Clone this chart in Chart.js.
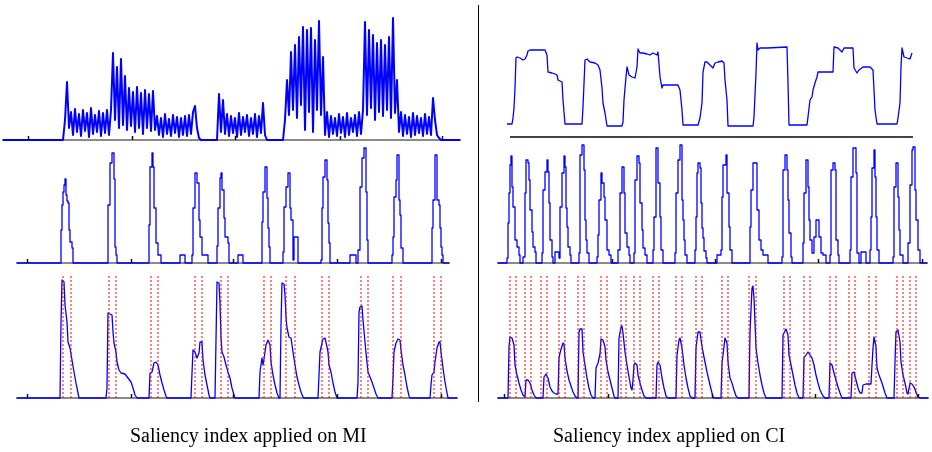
<!DOCTYPE html>
<html>
<head>
<meta charset="utf-8">
<script src="https://cdn.jsdelivr.net/npm/chart.js"></script>
<style>
  html, body { margin: 0; padding: 0; background: #fff; }
  #wrap { position: relative; width: 932px; height: 452px; overflow: hidden; background: #fff; }
  #wrap canvas { position: absolute; left: 0; top: 0; }
  .divider { position: absolute; left: 478px; top: 5px; width: 1px; height: 397px; background: #000; }
  .caption { position: absolute; top: 425px; font-family: "Liberation Serif", "Times New Roman", serif; font-size: 20px; line-height: 20px; color: #000; white-space: nowrap; }
</style>
</head>
<body>
<div id="wrap">
  <canvas id="miRawChart" width="932" height="452"></canvas>
  <canvas id="miSalChart" width="932" height="452"></canvas>
  <canvas id="miIdxChart" width="932" height="452"></canvas>
  <canvas id="ciRawChart" width="932" height="452"></canvas>
  <canvas id="ciSalChart" width="932" height="452"></canvas>
  <canvas id="ciIdxChart" width="932" height="452"></canvas>
  <div class="divider"></div>
  <div class="caption" style="left:130px">Saliency index applied on MI</div>
  <div class="caption" style="left:553px">Saliency index applied on CI</div>
</div>
<script>
// ---- MI (left) ----
// raw signal, blocks of samples taken every 2 frames: [first frame, values]
var miRawBlocks = [
    [63, [0, 20, 58, 12,
          28, 5, 31, 8, 26, 4, 30, 9, 27, 3, 32, 6, 25, 8, 29, 4, 27, 7, 30, 5,
          30, 87, 20, 73, 12, 81, 15, 64, 10, 52, 14, 48, 8, 53, 12, 47, 6, 50, 12, 46, 9, 49,
          10,
          24, 5, 22, 3, 26, 6, 21, 4, 25, 7, 23, 3, 22, 5, 24, 4, 25, 6, 28, 34, 12,
          2, 0]],
    [217, [0, 46, 8, 40,
           6, 26, 4, 24, 7, 22, 3, 27, 5, 23, 8, 25, 4, 22, 6, 26, 3, 24, 7,
           37, 5, 0]],
    [283, [0,
           20, 60, 25, 88, 30, 95, 22, 103, 35, 113, 10, 110, 28, 112, 8, 100, 30, 119, 25, 83,
           5, 28, 3, 24, 6, 22, 4, 26, 7, 23, 3, 27, 5, 22, 8, 25, 4, 28, 6,
           30, 118, 25, 110, 32, 105, 20, 97, 28, 100, 24, 95, 30, 103, 22, 122, 27, 60,
           8, 28, 4, 25, 6, 23, 3, 27, 5, 24, 7, 22, 4, 26, 6, 23, 5, 42, 20,
           5, 2, 0]]
];

// saliency, one list of [frame, value] per peak
var miSalPeaks = [
    [[61, 33], [62, 58], [63, 71], [64, 78], [65, 84], [66, 68], [67, 62], [68, 60], [69, 33], [70, 21], [72, 15], [73, 0]],
    [[108, 58], [110, 100], [112, 110], [114, 84], [115, 16], [116, 8], [117, 0]],
    [[149, 38], [150, 96], [152, 110], [153, 96], [154, 55], [156, 20], [158, 8], [161, 0]],
    [[180, 8], [185, 0]],
    [[192, 8], [193, 55], [195, 90], [197, 80], [199, 43], [200, 26], [202, 8], [208, 0]],
    [[217, 17], [218, 55], [220, 85], [221, 90], [222, 73], [224, 45], [225, 26], [228, 20], [229, 0]],
    [[238, 8], [243, 0]],
    [[262, 41], [263, 71], [265, 96], [267, 65], [268, 35], [269, 16], [270, 0]],
    [[283, 11], [284, 56], [286, 76], [288, 90], [290, 55], [291, 43], [293, 3], [294, 26], [298, 0]],
    [[321, 3], [322, 55], [323, 86], [325, 103], [327, 83], [328, 40], [329, 20], [330, 0]],
    [[350, 8], [356, 0]],
    [[358, 13], [360, 76], [362, 105], [364, 115], [366, 71], [367, 23], [368, 0]],
    [[392, 8], [393, 26], [394, 66], [396, 83], [397, 108], [399, 63], [400, 48], [401, 15], [403, 0]],
    [[432, 35], [433, 63], [435, 108], [437, 63], [439, 58], [440, 35], [441, 16], [442, 8], [443, 0]]
];

// saliency index
var miIdxPeaks = [
    [[60, 0], [61, 76], [62, 118], [64, 116], [65, 93], [67, 76], [68, 56], [70, 50], [72, 38], [74, 26], [76, 15], [78, 5], [79, 0]],
    [[106, 0], [107, 10], [108, 85], [110, 84], [112, 83], [113, 66], [114, 55], [116, 46], [117, 36], [119, 28], [121, 25], [125, 24], [128, 20], [131, 16], [133, 10], [135, 3], [137, 0]],
    [[149, 0], [150, 25], [152, 26], [154, 35], [156, 36], [158, 33], [160, 23], [162, 15], [164, 8], [166, 2], [167, 0]],
    [[191, 0], [192, 25], [193, 48], [195, 46], [197, 40], [199, 45], [200, 56], [202, 56], [203, 38], [205, 23], [207, 13], [209, 3], [210, 0]],
    [[215, 0], [216, 58], [217, 116], [219, 115], [220, 95], [221, 61], [222, 46], [224, 41], [226, 33], [228, 26], [230, 20], [232, 10], [234, 3], [235, 0]],
    [[259, 0], [260, 26], [262, 40], [263, 33], [264, 39], [266, 53], [268, 58], [270, 53], [271, 36], [273, 23], [275, 13], [277, 5], [279, 0]],
    [[280, 0], [281, 73], [282, 115], [284, 114], [285, 103], [286, 81], [287, 70], [289, 61], [291, 60], [293, 46], [295, 33], [297, 21], [299, 13], [301, 6], [303, 1], [304, 0]],
    [[318, 0], [319, 23], [320, 46], [322, 55], [323, 59], [325, 60], [327, 51], [328, 46], [329, 33], [331, 26], [333, 15], [335, 6], [337, 0]],
    [[357, 0], [358, 16], [359, 86], [360, 91], [362, 92], [363, 78], [365, 56], [366, 45], [368, 26], [370, 21], [372, 16], [374, 10], [376, 4], [378, 0]],
    [[392, 0], [393, 20], [394, 46], [396, 55], [398, 59], [400, 58], [401, 48], [403, 33], [405, 23], [407, 11], [409, 2], [410, 0]],
    [[430, 0], [431, 13], [432, 23], [434, 26], [435, 36], [437, 50], [439, 56], [440, 56], [441, 46], [443, 30], [445, 16], [447, 5], [448, 0]]
];
var miCuts = [63, 71, 109, 116, 151, 158, 195, 202, 221, 228, 264, 271, 286, 295, 322, 329, 361, 368, 393, 401, 434, 441];
var miTicksTop = [28, 132, 235, 340, 442];
var miTicks = [27, 131, 233, 337, 441];

// ---- CI (right) ----
var ciRaw = [
    [16, 4], [17, 13], [22, 13], [23, 19], [24, 29], [25, 49], [26, 79], [27, 80], [30, 79], [33, 77], [35, 78], [37, 82], [38, 86], [40, 87], [55, 87],
    [57, 82], [58, 65], [62, 64], [65, 63], [67, 62], [68, 57], [72, 55], [73, 37], [75, 13], [92, 13], [93, 30], [95, 77], [97, 78], [100, 75], [105, 74],
    [108, 72], [110, 67], [112, 49], [113, 34], [115, 24], [117, 11], [132, 11], [133, 15], [134, 37], [136, 60], [137, 70], [139, 62], [142, 60], [145, 59],
    [147, 70], [148, 88], [150, 84], [153, 84], [157, 83], [160, 82], [163, 84], [167, 82], [168, 85], [170, 60], [172, 49], [173, 52], [188, 52], [190, 47],
    [192, 27], [193, 12], [208, 12], [210, 19], [212, 34], [213, 65], [215, 75], [217, 75], [220, 72], [223, 69], [225, 74], [228, 75], [232, 76], [234, 74],
    [235, 57], [237, 37], [238, 11], [263, 11], [264, 20], [266, 64], [267, 94], [268, 87], [270, 89], [277, 89], [297, 90], [298, 54], [299, 12], [317, 12],
    [318, 20], [320, 37], [322, 40], [323, 47], [325, 54], [327, 60], [328, 65], [343, 65], [344, 90], [348, 89], [350, 87], [352, 85], [354, 89], [363, 89],
    [364, 69], [367, 64], [369, 67], [373, 70], [380, 70], [383, 67], [384, 47], [385, 27], [387, 13], [407, 13], [408, 19], [410, 34], [411, 70], [412, 89],
    [414, 80], [417, 79], [420, 78], [422, 84], [423, 87], [426, 85], [430, 86], [434, 85], [438, 85]
];

var ciSalPeaks = [
    [[17, 5], [18, 40], [19, 70], [20, 98], [21, 107], [22, 76], [23, 56], [25, 23], [27, 16], [29, 8], [30, 0]],
    [[33, 6], [35, 70], [36, 103], [38, 100], [39, 83], [40, 53], [42, 31], [43, 16], [45, 11], [46, 0]],
    [[52, 10], [53, 73], [55, 91], [57, 103], [58, 91], [59, 60], [60, 23], [62, 6], [63, 0]],
    [[65, 11], [69, 5], [70, 56], [72, 90], [74, 107], [75, 96], [76, 55], [77, 36], [78, 16], [80, 8], [81, 0]],
    [[89, 10], [90, 108], [92, 118], [94, 93], [95, 43], [96, 23], [97, 10], [99, 0]],
    [[107, 6], [108, 28], [109, 63], [111, 90], [112, 80], [114, 66], [115, 43], [117, 13], [119, 8], [121, 0]],
    [[128, 13], [130, 70], [132, 96], [134, 70], [135, 30], [137, 16], [139, 8], [140, 0]],
    [[144, 10], [145, 83], [147, 107], [149, 100], [150, 60], [152, 33], [153, 15], [155, 8], [157, 0]],
    [[163, 13], [164, 46], [166, 115], [168, 80], [170, 46], [171, 13], [173, 0]],
    [[185, 10], [186, 70], [188, 103], [190, 118], [192, 63], [193, 43], [194, 23], [195, 8], [197, 0]],
    [[205, 13], [206, 46], [207, 90], [208, 100], [210, 95], [211, 60], [212, 35], [213, 25], [214, 12], [216, 5], [217, 0]],
    [[227, 8], [231, 13], [232, 66], [233, 98], [236, 108], [237, 70], [239, 36], [240, 13], [242, 0]],
    [[260, 36], [261, 73], [263, 100], [266, 100], [267, 53], [269, 23], [271, 13], [273, 8], [278, 0]],
    [[292, 6], [293, 93], [295, 108], [297, 93], [298, 63], [299, 30], [301, 6], [302, 0]],
    [[313, 20], [314, 70], [316, 103], [318, 76], [319, 43], [320, 23], [322, 10], [324, 26], [326, 43], [329, 26], [331, 10], [333, 8], [336, 0]],
    [[340, 8], [341, 93], [343, 100], [345, 93], [346, 23], [348, 8], [349, 0]],
    [[360, 13], [361, 86], [363, 115], [366, 90], [367, 10], [369, 0], [371, 11], [376, 0]],
    [[380, 13], [381, 46], [382, 95], [384, 113], [385, 86], [386, 46], [387, 13], [389, 0]],
    [[403, 6], [404, 76], [406, 100], [408, 66], [409, 33], [410, 8], [413, 0]],
    [[418, 20], [420, 78], [422, 113], [423, 116], [425, 73], [426, 43], [428, 13], [430, 0]]
];

var ciIdxPeaks = [
    [[18, 0], [19, 51], [20, 61], [22, 60], [24, 53], [25, 33], [27, 23], [29, 15], [31, 8], [33, 3], [35, 1], [36, 18], [38, 18], [40, 15], [42, 8], [44, 3], [46, 0]],
    [[53, 0], [54, 21], [56, 24], [58, 20], [60, 11], [62, 7], [64, 5], [66, 4], [68, 4], [69, 40], [70, 45], [72, 52], [73, 55], [74, 54], [75, 40], [77, 27], [79, 18], [81, 12], [83, 6], [85, 2], [87, 0]],
    [[88, 0], [89, 66], [90, 69], [92, 69], [93, 46], [95, 33], [97, 20], [99, 10], [101, 3], [103, 0]],
    [[105, 0], [106, 30], [108, 35], [110, 44], [111, 59], [113, 58], [115, 51], [116, 38], [118, 26], [120, 18], [122, 10], [124, 2], [125, 0]],
    [[128, 0], [129, 60], [131, 71], [132, 72], [133, 65], [135, 46], [137, 33], [139, 21], [141, 10], [142, 8], [143, 18], [144, 33], [145, 35], [147, 33], [148, 23], [150, 15], [152, 8], [154, 2], [156, 0]],
    [[166, 0], [167, 33], [168, 36], [170, 33], [172, 20], [174, 10], [176, 2], [178, 0]],
    [[186, 0], [187, 43], [189, 58], [190, 60], [192, 50], [194, 33], [196, 20], [198, 10], [200, 2], [202, 0]],
    [[205, 0], [206, 50], [208, 66], [210, 66], [211, 58], [213, 46], [217, 26], [220, 13], [223, 1], [224, 0]],
    [[231, 0], [232, 35], [233, 43], [235, 60], [237, 55], [238, 36], [240, 20], [242, 15], [244, 8], [246, 2], [248, 0]],
    [[259, 0], [260, 66], [262, 110], [263, 112], [264, 100], [266, 50], [268, 35], [270, 23], [272, 13], [274, 5], [276, 0]],
    [[292, 0], [293, 63], [296, 69], [298, 63], [299, 43], [301, 33], [303, 23], [305, 13], [307, 5], [309, 0]],
    [[313, 0], [314, 40], [316, 43], [318, 46], [320, 43], [322, 40], [324, 33], [326, 23], [328, 15], [330, 8], [333, 2], [335, 0]],
    [[339, 0], [340, 35], [342, 33], [344, 25], [346, 18], [348, 11], [350, 5], [352, 0]],
    [[361, 0], [362, 25], [364, 26], [366, 18], [368, 10], [370, 5], [372, 5], [373, 13], [376, 14], [381, 14], [382, 33], [383, 50], [384, 61], [386, 51], [387, 30], [389, 23], [392, 15], [395, 5], [397, 0]],
    [[404, 0], [405, 36], [406, 66], [408, 68], [410, 56], [411, 36], [413, 23], [415, 15], [417, 5], [418, 4], [420, 15], [422, 14], [424, 11], [426, 6], [428, 1], [430, 0]]
];
var ciCuts = [20, 26, 35, 41, 51, 57, 69, 75, 88, 94, 111, 117, 131, 136, 144, 150, 163, 169, 186, 192, 206, 212,
              232, 238, 259, 266, 294, 300, 314, 320, 340, 346, 359, 365, 379, 386, 407, 413, 420, 426];
var ciTicksMid = [122, 225, 328, 432];
var ciTicksLow = [14, 118, 222, 325, 428];

var BLUE = '#0000ff';
var RED = '#ff0000';

// small black marks sitting on the baseline
var tickMarks = {
    id: 'tickMarks',
    afterDatasetsDraw: function (chart, args, opts) {
        if (!opts.at) return;
        var ctx = chart.ctx, xs = chart.scales.x, yb = chart.chartArea.bottom;
        ctx.save();
        ctx.strokeStyle = '#111';
        ctx.lineWidth = 1.5;
        opts.at.forEach(function (t) {
            var px = Math.round(xs.getPixelForValue(t)) + 0.5;
            ctx.beginPath();
            ctx.moveTo(px, yb);
            ctx.lineTo(px, yb - 4);
            ctx.stroke();
        });
        ctx.restore();
    }
};

function fromBlocks(blocks, step, t0, t1) {
    var out = [{ x: t0, y: 0 }];
    blocks.forEach(function (b) {
        b[1].forEach(function (v, k) { out.push({ x: b[0] + k * step, y: v }); });
    });
    out.push({ x: t1, y: 0 });
    return out;
}

function fromPeaks(peaks, t0, t1) {
    var out = [{ x: t0, y: 0 }];
    peaks.forEach(function (p) {
        p.forEach(function (pt) { out.push({ x: pt[0], y: pt[1] }); });
    });
    out.push({ x: t1, y: 0 });
    return out;
}

function blueSet(points, stepped, width) {
    return {
        data: points, borderColor: BLUE, borderWidth: width || 1.3, borderJoinStyle: 'round',
        stepped: stepped || false, clip: false, order: 2
    };
}

function cutSets(cuts, top) {
    return cuts.map(function (c) {
        return { data: [{ x: c, y: 0 }, { x: c, y: top }], borderColor: RED, borderWidth: 1, borderDash: [2, 2], clip: false, order: 1 };
    });
}

function makeChart(id, frame, datasets, ticks, axisColor) {
    var ctx = document.getElementById(id).getContext('2d');
    return new Chart(ctx, {
        type: 'line',
        data: { datasets: datasets },
        plugins: [tickMarks],
        options: {
            responsive: false,
            animation: false,
            events: [],
            layout: { padding: frame.pad },
            elements: { point: { radius: 0 }, line: { tension: 0 } },
            plugins: {
                legend: { display: false },
                tooltip: { enabled: false },
                tickMarks: { at: ticks }
            },
            scales: {
                x: {
                    type: 'linear', min: frame.x[0], max: frame.x[1],
                    grid: { display: false, drawTicks: false },
                    ticks: { display: false },
                    border: { display: true, color: axisColor, width: 2 }
                },
                y: { min: 0, max: frame.yMax, display: false }
            }
        }
    });
}

// left panel
makeChart('miRawChart',
    { x: [3, 460], yMax: 130, pad: { left: 3, right: 472, top: 10, bottom: 312 } },
    [blueSet(fromBlocks(miRawBlocks, 2, 3, 460), false, 2)], miTicksTop, '#8a8a8a');

makeChart('miSalChart',
    { x: [17, 449], yMax: 120, pad: { left: 17, right: 483, top: 143, bottom: 189 } },
    [blueSet(fromPeaks(miSalPeaks, 17, 449), true)], miTicks, '#8a8a8a');

makeChart('miIdxChart',
    { x: [17, 457], yMax: 125, pad: { left: 17, right: 475, top: 273, bottom: 54 } },
    cutSets(miCuts, 123).concat([blueSet(fromPeaks(miIdxPeaks, 17, 457))]), miTicks, '#8a8a8a');

// right panel
makeChart('ciRawChart',
    { x: [21, 422], yMax: 100, pad: { left: 511, right: 20, top: 37, bottom: 315 } },
    [blueSet(ciRaw.map(function (p) { return { x: p[0], y: p[1] }; }))], [], '#444');

makeChart('ciSalChart',
    { x: [8, 437], yMax: 120, pad: { left: 498, right: 5, top: 143, bottom: 189 } },
    [blueSet(fromPeaks(ciSalPeaks, 8, 437), true)], ciTicksMid, '#8a8a8a');

makeChart('ciIdxChart',
    { x: [8, 438], yMax: 125, pad: { left: 498, right: 4, top: 273, bottom: 54 } },
    cutSets(ciCuts, 124).concat([blueSet(fromPeaks(ciIdxPeaks, 8, 438))]), ciTicksLow, '#8a8a8a');
</script>
</body>
</html>
